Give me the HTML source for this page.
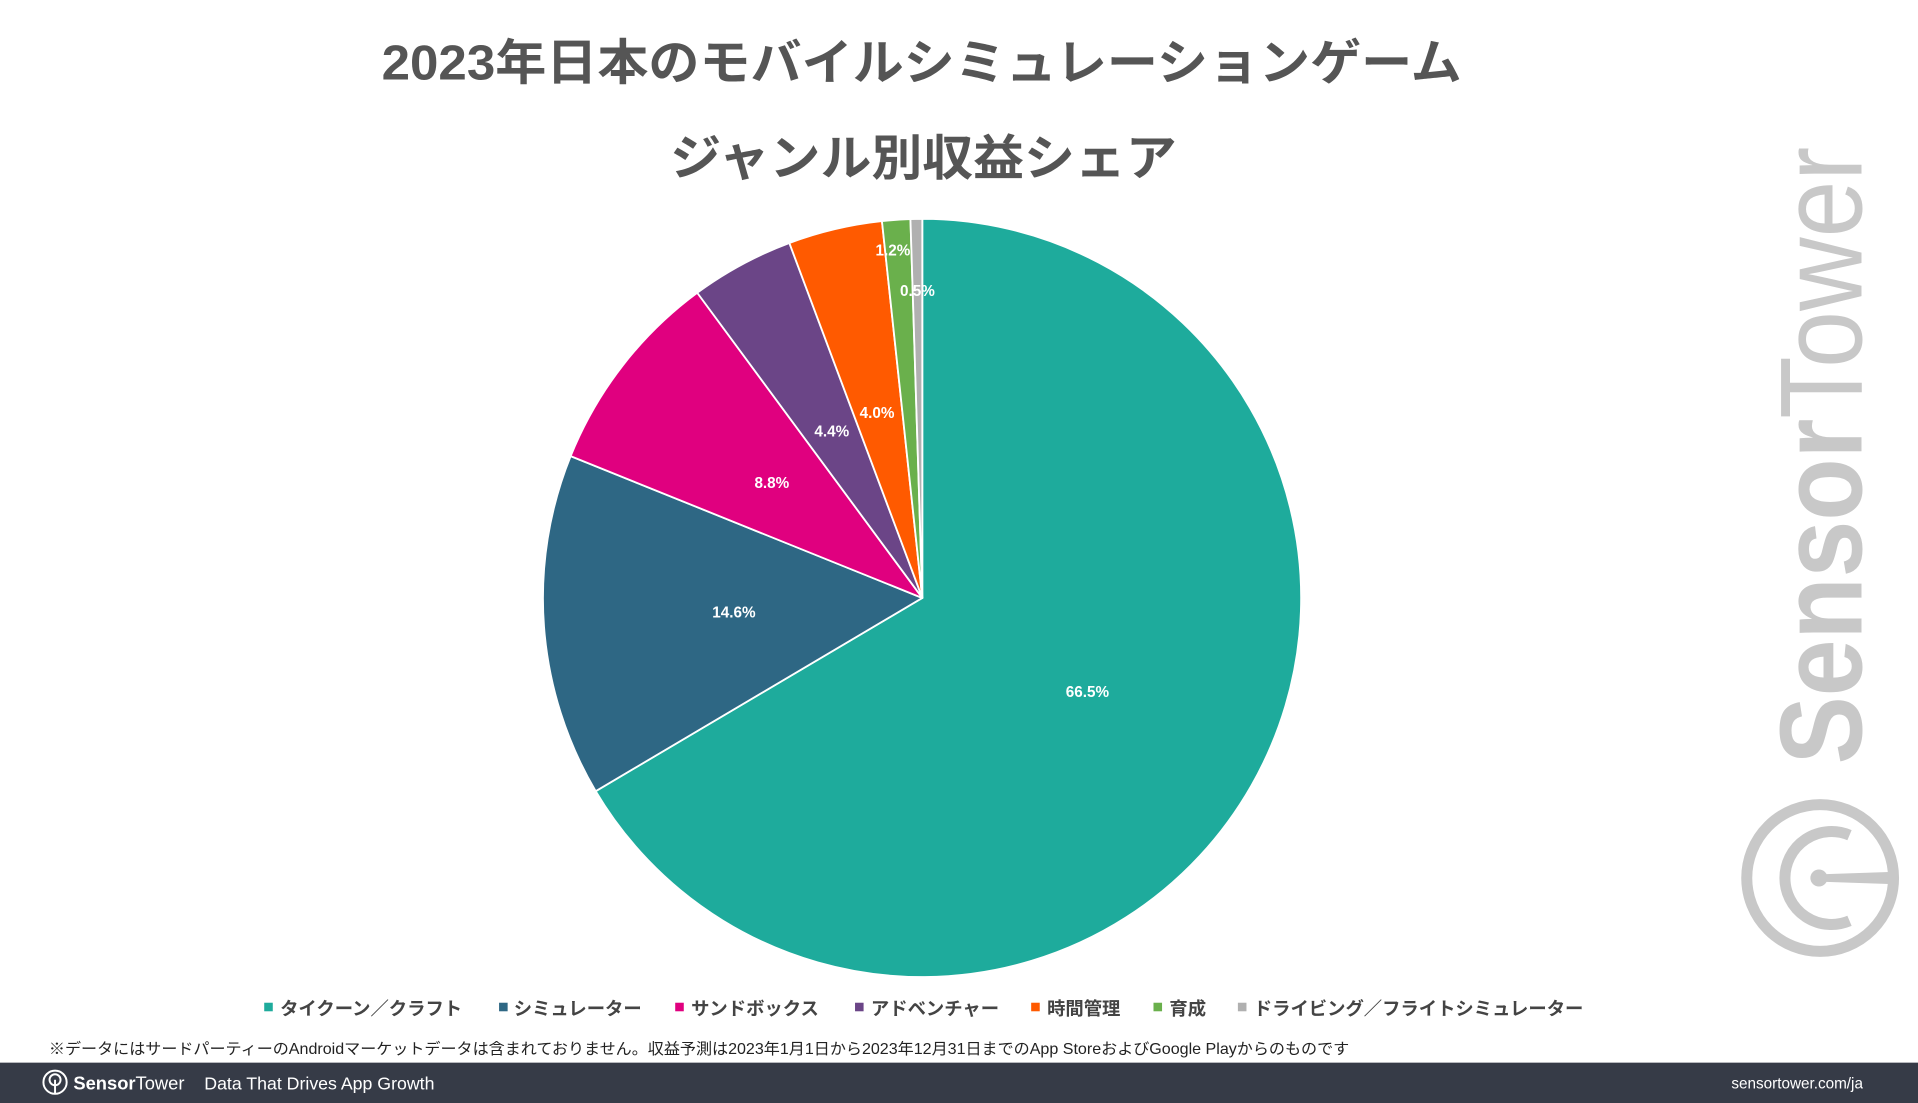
<!DOCTYPE html>
<html><head><meta charset="utf-8"><style>
html,body{margin:0;padding:0;background:#fff;}
svg{display:block;}
text{font-family:"Liberation Sans","Noto Sans CJK JP",sans-serif;}
</style></head><body>
<svg width="1918" height="1103" viewBox="0 0 1568 902" preserveAspectRatio="none" xmlns="http://www.w3.org/2000/svg">
<rect width="1568" height="902" fill="#fff"/>
<text x="312" y="65" font-size="40" font-weight="bold" fill="#555" textLength="883" lengthAdjust="spacingAndGlyphs">2023年日本のモバイルシミュレーションゲーム</text>
<text x="548" y="143" font-size="40" font-weight="bold" fill="#555" textLength="414" lengthAdjust="spacingAndGlyphs">ジャンル別収益シェア</text>

<g stroke="#fff" stroke-width="1.5" stroke-linejoin="round">
<path d="M754,489 L754,179 A310,310 0 1 1 487,647 Z" fill="#1eab9c"/>
<path d="M754,489 L487,647 A310,310 0 0 1 466.5,373 Z" fill="#2e6784"/>
<path d="M754,489 L466.5,373 A310,310 0 0 1 570,239.4 Z" fill="#e0007f"/>
<path d="M754,489 L570,239.4 A310,310 0 0 1 645.3,198.7 Z" fill="#6b4587"/>
<path d="M754,489 L645.3,198.7 A310,310 0 0 1 721,180.8 Z" fill="#ff5a00"/>
<path d="M754,489 L721,180.8 A310,310 0 0 1 744.3,179.2 Z" fill="#6ab04c"/>
<path d="M754,489 L744.3,179.2 A310,310 0 0 1 754,179 Z" fill="#b0b0b0"/>
</g>
<g font-size="12.5" font-weight="bold" fill="#fff" text-anchor="middle">
<text x="889" y="570">66.5%</text>
<text x="600" y="505">14.6%</text>
<text x="631" y="399">8.8%</text>
<text x="680" y="357">4.4%</text>
<text x="717" y="342">4.0%</text>
<text x="730" y="209">1.2%</text>
<text x="750" y="242">0.5%</text>
</g>

<g font-size="15" font-weight="bold" fill="#444">
<rect x="216" y="820" width="7" height="7" fill="#1eab9c"/><text x="229" y="830">タイクーン／クラフト</text>
<rect x="408" y="820" width="7" height="7" fill="#2e6784"/><text x="420" y="830">シミュレーター</text>
<rect x="552" y="820" width="7" height="7" fill="#e0007f"/><text x="565" y="830">サンドボックス</text>
<rect x="699" y="820" width="7" height="7" fill="#6b4587"/><text x="712" y="830">アドベンチャー</text>
<rect x="843" y="820" width="7" height="7" fill="#ff5a00"/><text x="856" y="830">時間管理</text>
<rect x="943" y="820" width="7" height="7" fill="#6ab04c"/><text x="956" y="830">育成</text>
<rect x="1012" y="820" width="7" height="7" fill="#b0b0b0"/><text x="1025" y="830">ドライビング／フライトシミュレーター</text>
</g>
<text x="40" y="862" font-size="12.5" fill="#222" textLength="1063" lengthAdjust="spacingAndGlyphs">※データにはサードパーティーのAndroidマーケットデータは含まれておりません。収益予測は2023年1月1日から2023年12月31日までのApp StoreおよびGoogle Playからのものです</text>

<g transform="translate(1490,625) rotate(-90)">
<text x="0" y="32" font-size="96" font-weight="bold" fill="#c8c8c8" textLength="505" lengthAdjust="spacingAndGlyphs">Sensor<tspan font-weight="normal">Tower</tspan></text>
</g>
<circle cx="1488" cy="718" r="60" fill="none" stroke="#c8c8c8" stroke-width="9"/>
<path d="M1512,683 A38,38 0 1 0 1512,753" fill="none" stroke="#c8c8c8" stroke-width="9"/>
<circle cx="1487" cy="718" r="7" fill="#c8c8c8"/>
<path d="M1487,715 L1547,713 L1547,723 L1487,721 Z" fill="#c8c8c8"/>

<rect x="0" y="869" width="1568" height="33" fill="#363b47"/>
<circle cx="45" cy="885" r="9.5" fill="none" stroke="#fff" stroke-width="1.6"/>
<circle cx="45" cy="883" r="4.5" fill="none" stroke="#fff" stroke-width="1.6"/>
<line x1="45" y1="883" x2="45" y2="894" stroke="#fff" stroke-width="1.6"/>
<text x="60" y="891" font-size="15" font-weight="bold" fill="#fff">Sensor<tspan font-weight="normal">Tower</tspan></text>
<text x="167" y="891" font-size="14.5" fill="#fff">Data That Drives App Growth</text>
<text x="1523" y="890" font-size="12.5" fill="#fff" text-anchor="end">sensortower.com/ja</text>
</svg>
</body></html>
